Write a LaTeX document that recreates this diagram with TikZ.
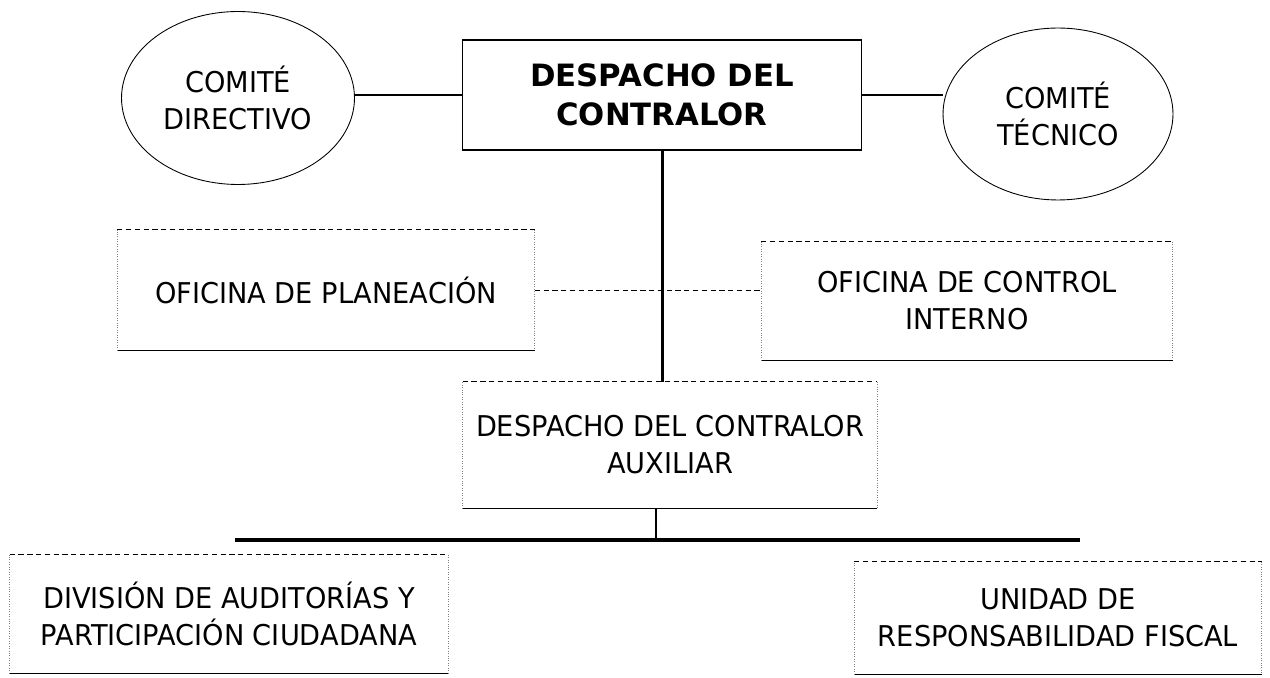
\documentclass[tikz,border=0pt]{standalone}
\usepackage{fontspec}
\setmainfont[FakeStretch=0.95, BoldFeatures={FakeStretch=1}]{DejaVu Sans}
\usetikzlibrary{shapes.geometric}
\newcommand{\scanbox}[1]{%
    \draw[densely dashed, line width=0.5pt] (#1.north west) -- (#1.north east);
    \draw[densely dotted, gray] (#1.north east) -- (#1.south east);
    \draw[line width=0.7pt] (#1.south east) -- (#1.south west);
    \draw[densely dotted, gray] (#1.south west) -- (#1.north west);}
\tikzset{
    comite/.style={ellipse, draw, line width=0.5pt, align=center, inner sep=0pt,
        font=\fontsize{16.3}{21}\selectfont},
    unidad/.style={rectangle, align=center, inner sep=0pt,
        font=\fontsize{16.3}{21}\selectfont},
    mando/.style={line width=1.7pt},
}

\begin{document}
\begin{tikzpicture}[x=0.02cm, y=-0.02cm]
    \useasboundingbox (0,0) rectangle (1270,678);

    \node[comite, minimum width=4.66cm, minimum height=3.46cm] (dir) at (238,98) {COMITÉ\\DIRECTIVO};
    \node[draw, line width=0.9pt, align=center, minimum width=7.98cm, minimum height=2.2cm,
        font=\fontsize{17.5}{22}\selectfont\bfseries] (desp) at (662,95) {DESPACHO DEL\\CONTRALOR};
    \node[comite, minimum width=4.6cm, minimum height=3.44cm] (tec) at (1058,114) {COMITÉ\\TÉCNICO};

    \node[unidad, minimum width=8.34cm, minimum height=2.4cm] (plan) at (326,290) {OFICINA DE PLANEACIÓN};
    \node[unidad, minimum width=8.22cm, minimum height=2.36cm] (ctrl) at (967,301) {OFICINA DE CONTROL\\INTERNO};
    \node[unidad, minimum width=8.28cm, minimum height=2.52cm] (aux) at (670,445) {DESPACHO DEL CONTRALOR\\AUXILIAR};
    \node[unidad, minimum width=8.76cm, minimum height=2.36cm] (div) at (229,614) {DIVISIÓN DE AUDITORÍAS Y\\PARTICIPACIÓN CIUDADANA};
    \node[unidad, minimum width=8.14cm, minimum height=2.24cm] (uni) at (1058,618) {UNIDAD DE\\RESPONSABILIDAD FISCAL};

    \scanbox{plan}
    \scanbox{ctrl}
    \scanbox{aux}
    \scanbox{div}
    \scanbox{uni}

    \coordinate (barL) at (235,540);
    \coordinate (barM) at (656,540);
    \coordinate (barR) at (1080,540);

    \draw[line width=0.6pt] (dir.east |- desp.west) -- (desp.west);
    \draw[line width=0.6pt] (desp.east) -- (desp.east -| tec.west);
    \draw[mando] (desp.south) -- (desp.south |- aux.north);
    \draw[densely dashed, line width=0.5pt] (plan.east) -- (plan.east -| ctrl.west);
    \draw[line width=1.3pt] (barM |- aux.south) -- (barM);
    \draw[line width=2.6pt] (barL) -- (barR);
\end{tikzpicture}
\end{document}
